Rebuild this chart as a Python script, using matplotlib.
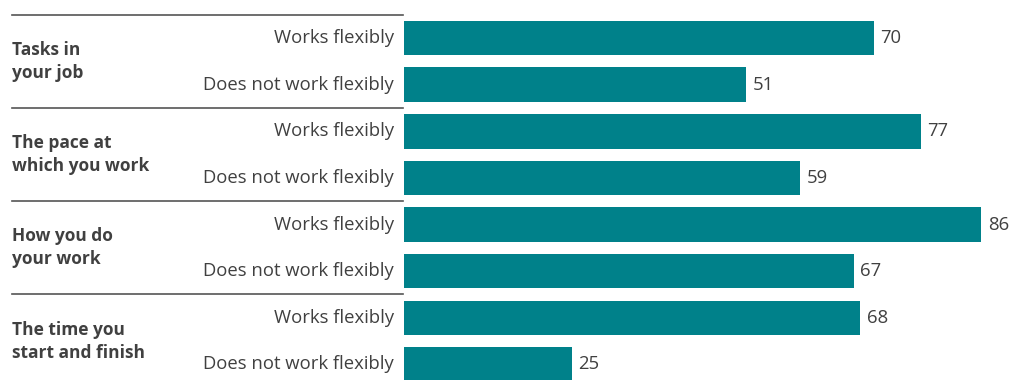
import matplotlib.pyplot as plt
import matplotlib.transforms as mtransforms

plt.rcParams['font.family'] = ['Open Sans', 'DejaVu Sans']

# Data
groups = ['Tasks in\nyour job', 'The pace at\nwhich you work',
          'How you do\nyour work', 'The time you\nstart and finish']
sub_labels = ['Works flexibly', 'Does not work flexibly']
works_flexibly = [70, 77, 86, 68]
not_flexibly = [51, 59, 67, 25]

bar_color = '#00818A'
text_color = '#404040'

values = []
labels = []
for w, n in zip(works_flexibly, not_flexibly):
    values += [w, n]
    labels += sub_labels

W, H = 1011, 380
fig = plt.figure(figsize=(W / 100, H / 100), dpi=100)
ax = fig.add_axes([404 / W, -7.7 / H, (W - 404) / W, 373 / H])

ypos = list(range(len(values)))
ax.barh(ypos, values, height=0.74, color=bar_color)
ax.set_ylim(len(values) - 0.5, -0.5)
ax.set_xlim(0, (W - 404) / 6.71)
ax.axis('off')

for y, v in zip(ypos, values):
    ax.text(v + 1.0, y, str(v), va='center', ha='left', fontsize=13.3, color=text_color)

trans = mtransforms.blended_transform_factory(fig.transFigure, ax.transData)
for y, lab in zip(ypos, labels):
    ax.text(394 / W, y, lab, transform=trans, va='center', ha='right',
            fontsize=13.3, color=text_color)

for i, g in enumerate(groups):
    top = 2 * i - 0.5
    ax.plot([12 / W, 403 / W], [top, top], transform=trans, color='#555555',
            lw=1.2, clip_on=False)
    ax.text(12 / W, 2 * i + 0.5, g, transform=trans, va='center', ha='left',
            fontsize=12.5, fontweight='bold', color=text_color, linespacing=1.35)

fig.savefig('out.png', dpi=100)
